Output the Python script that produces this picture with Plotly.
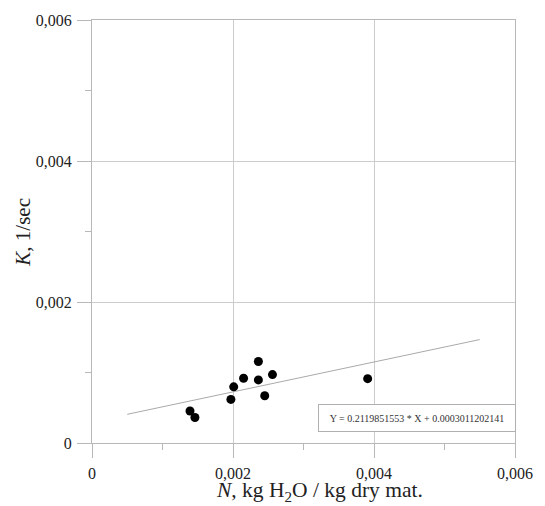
import plotly.graph_objects as go

# Data
moisture_N = [0.00139, 0.00146, 0.00197, 0.00201, 0.00215, 0.00236, 0.00236, 0.00256, 0.00245, 0.00391]
rate_K = [0.000454, 0.000361, 0.000618, 0.000797, 0.000918, 0.001156, 0.000895, 0.000970, 0.000670, 0.000913]

slope = 0.2119851553
intercept = 0.0003011202141
fit_x = [0.0005, 0.0055]
fit_y = [slope * x + intercept for x in fit_x]

tick_vals = [0, 0.002, 0.004, 0.006]
tick_text = ["0", "0,002", "0,004", "0,006"]

FONT = "Liberation Serif"
GRID = "#cccccc"
LINE = "#b8b8b8"

fig = go.Figure()
fig.add_trace(go.Scatter(x=fit_x, y=fit_y, mode="lines",
                         line=dict(color="#aaaaaa", width=1), showlegend=False))
fig.add_trace(go.Scatter(x=moisture_N, y=rate_K, mode="markers",
                         marker=dict(color="black", size=9), showlegend=False))

axis_common = dict(
    range=[0, 0.006], tickvals=tick_vals, ticktext=tick_text,
    showgrid=True, gridcolor=GRID, gridwidth=1,
    showline=True, linecolor=LINE, linewidth=1, mirror=True,
    ticks="outside", ticklen=14, tickcolor=LINE, tickwidth=1,
    minor=dict(ticks="outside", ticklen=6, tickcolor=LINE, dtick=0.001, tick0=0, showgrid=False),
    zeroline=False, tickfont=dict(family=FONT, size=16, color="#222222"),
    fixedrange=True,
)
fig.update_xaxes(**axis_common, ticklabelstandoff=2)
fig.update_yaxes(**axis_common, ticklabelstandoff=2)

eq_text = f"Y = {slope} * X + {intercept:.13f}"
fig.add_annotation(x=0.004609, y=0.000351, xref="x", yref="y", text=eq_text,
                   showarrow=False, font=dict(family=FONT, size=10, color="#333333"),
                   bordercolor="#b0b0b0", borderwidth=1, borderpad=0,
                   width=196, height=26, bgcolor="white", xanchor="center", yanchor="middle")

fig.add_annotation(x=0.5386, y=-0.1148, xref="paper", yref="paper",
                   text="<i>N</i>, kg H<sub>2</sub>O / kg dry mat.", showarrow=False,
                   font=dict(family=FONT, size=21.5, color="#222222"),
                   xanchor="center", yanchor="middle")
fig.add_annotation(x=-0.1639, y=0.4988, xref="paper", yref="paper",
                   text="<i>K</i>, 1/sec", showarrow=False, textangle=-90,
                   font=dict(family=FONT, size=21, color="#222222"),
                   xanchor="center", yanchor="middle")

fig.update_layout(
    width=545, height=506,
    margin=dict(l=92, r=26, t=16, b=63),
    plot_bgcolor="white", paper_bgcolor="white",
    separators=", ",
    font=dict(family=FONT),
)
fig.write_html("out.html")
